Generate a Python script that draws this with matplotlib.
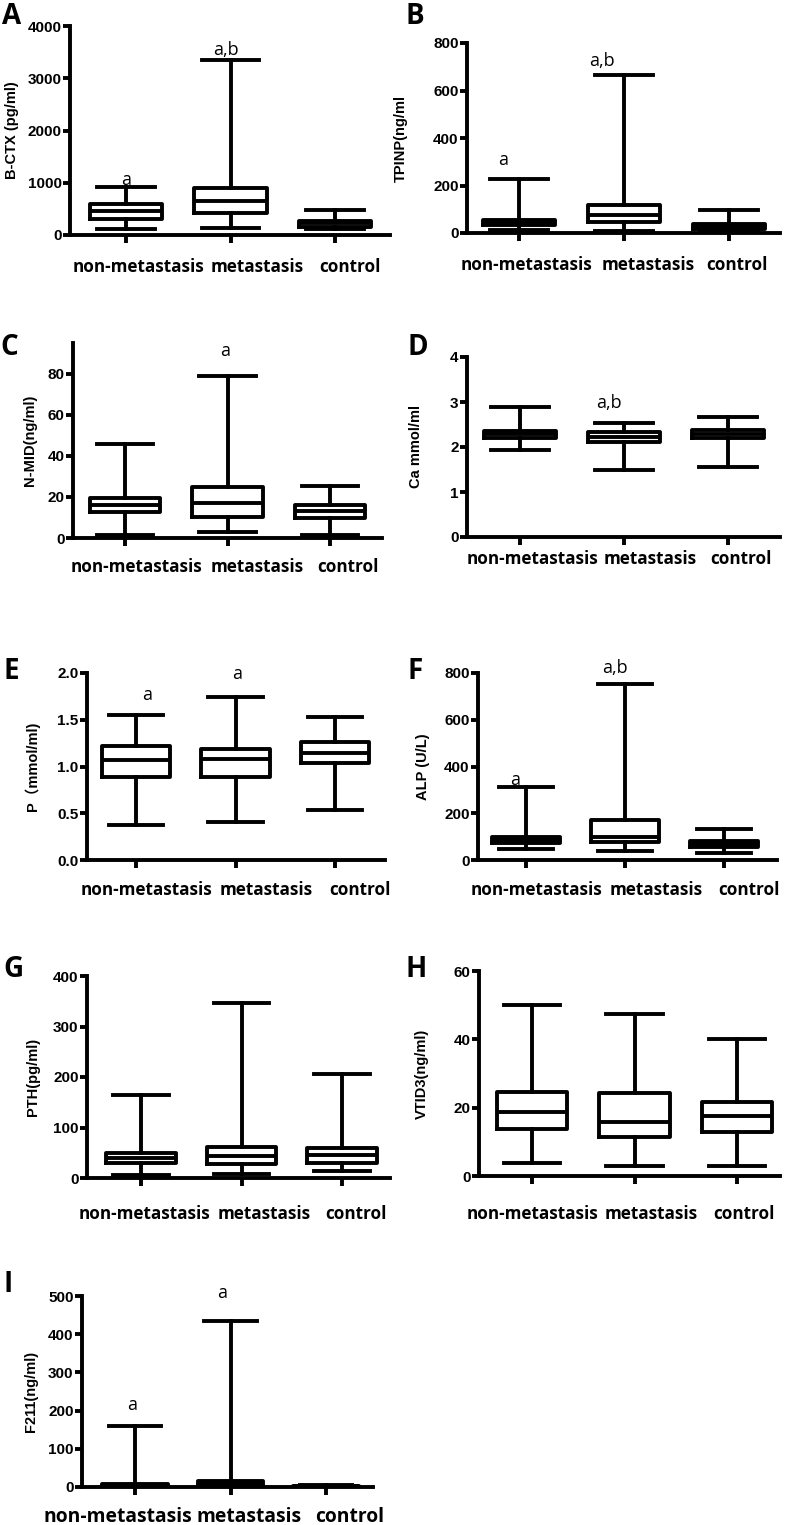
import numpy as np
import matplotlib.pyplot as plt
from matplotlib.transforms import ScaledTranslation

groups = ['non-metastasis', 'metastasis', 'control']

# rows: whisker low, q1, median, q3, whisker high (one column per group)
bctx = [[108, 134, 108], [300, 415, 160], [459, 651, 223], [593, 893, 274], [912, 3349, 478]]
tpinp = [[11, 10, 7], [35, 45, 17], [45, 77, 28], [56, 116, 39], [229, 667, 95]]
nmid = [[1.6, 2.8, 1.6], [12.5, 10.2, 9.9], [16.3, 17.0, 13.0], [19.5, 24.9, 16.3], [45.9, 78.9, 25.2]]
ca = [[1.93, 1.50, 1.56], [2.19, 2.11, 2.19], [2.28, 2.22, 2.28], [2.36, 2.33, 2.37], [2.89, 2.53, 2.67]]
p = [[0.37, 0.41, 0.54], [0.89, 0.89, 1.04], [1.07, 1.08, 1.14], [1.22, 1.19, 1.26], [1.55, 1.74, 1.53]]
alp = [[46, 40, 31], [71, 79, 57], [86, 97, 69], [100, 169, 81], [314, 753, 133]]
pth = [[5, 7, 14], [30, 27, 30], [40, 43, 45], [50, 61, 60], [165, 346, 205]]
vtid3 = [[3.9, 2.9, 2.9], [13.9, 11.5, 13.0], [18.6, 15.9, 17.6], [24.6, 24.3, 21.7], [50.0, 47.3, 40.0]]
f211 = [[2, 2, 0.5], [3, 3.5, 1], [6, 9, 2], [9, 16.5, 3.5], [159, 435, 5]]

ylabels = ['B-CTX (pg/ml)', 'TPINP(ng/ml', 'N-MID(ng/ml)', 'Ca mmol/ml', 'P（mmol/ml)',
           'ALP (U/L)', 'PTH(pg/ml)', 'VTID3(ng/ml)', 'F211(ng/ml)']
letters = ['A', 'B', 'C', 'D', 'E', 'F', 'G', 'H', 'I']
yticks = [np.arange(0, 4001, 1000), np.arange(0, 801, 200), np.arange(0, 81, 20),
          np.arange(0, 5, 1), np.arange(0, 2.01, 0.5), np.arange(0, 801, 200),
          np.arange(0, 401, 100), np.arange(0, 61, 20), np.arange(0, 501, 100)]
ytop = [4000, 800, 95, 4, 2.0, 800, 400, 60, 500]

# significance marks: (text, group, y value, x shift px)
marks = [
    [('a', 0, 1053, 0), ('a,b', 1, 3541, -5)],
    [('a', 0, 309, -16), ('a,b', 1, 723, -22)],
    [('a', 1, 91, -2)],
    [('a,b', 1, 2.98, -15)],
    [('a', 0, 1.77, 11), ('a', 1, 1.99, 2)],
    [('a', 0, 343, -11), ('a,b', 1, 821, -10)],
    [], [],
    [('a', 0, 215, -3), ('a', 1, 507, -8)],
]
data = [bctx, tpinp, nmid, ca, p, alp, pth, vtid3, f211]

W, H = 787, 1525
# layout in pixels: spine x, axis right end, y of zero line, y of top, tick x positions
frames = [
    (70, 390, 235, 26, (126, 232, 335)),
    (467, 780, 233, 43, (519, 625, 729)),
    (73, 382, 538, 343, (125, 228, 330)),
    (467, 780, 537, 357, (520, 625, 728)),
    (87, 385, 860, 673, (136, 236, 335)),
    (478, 777, 860, 673, (526, 626, 724)),
    (87, 390, 1178, 976, (141, 241, 342)),
    (479, 780, 1176, 971, (532, 634, 737)),
    (82, 373, 1487, 1296, (135, 230, 326)),
]
label_dx = [(12, 27, 15), (8, 24, 8), (12, 30, 18), (12, 26, 13), (11, 31, 25),
            (11, 31, 25), (4, 23, 14), (0, 17, 7), (-17, 19, 24)]
label_dy = [30, 30, 27, 20, 28, 28, 34, 36, 28]
ylab_x = [19, 408, 37, 423, 40, 430, 40, 429, 38]
letter_xy = [(2, 2), (405, 2), (0, 333), (407, 333), (3, 657), (407, 657),
             (3, 955), (405, 955), (3, 1270)]

lw = 2.8
fig = plt.figure(figsize=(W / 100, H / 100), dpi=100)

for i in range(9):
    left, right, y0, top, tx = frames[i]
    ax = fig.add_axes([left / W, 1 - y0 / H, (right - left) / W, (y0 - top) / H])
    s = (tx[2] - tx[0]) / 2
    ax.set_xlim(-(tx[0] - left) / s, 2 + (right - tx[2]) / s)
    ax.set_ylim(0, ytop[i])

    d = data[i]
    stats = []
    for g in range(3):
        stats.append(dict(whislo=d[0][g], q1=d[1][g], med=d[2][g], q3=d[3][g],
                          whishi=d[4][g], label=groups[g]))
    props = dict(color='black', linewidth=lw)
    ax.bxp(stats, positions=[0, 1, 2], widths=0.69, capwidths=0.55, showfliers=False,
           boxprops=props, medianprops=props, whiskerprops=props, capprops=props)

    for sp in ['top', 'right']:
        ax.spines[sp].set_visible(False)
    for sp in ['left', 'bottom']:
        ax.spines[sp].set_linewidth(lw)

    ax.set_yticks(yticks[i])
    if i == 4:
        ax.set_yticklabels(['%.1f' % v for v in yticks[i]])
    ax.tick_params(axis='y', length=5, width=lw, pad=1, labelsize=11)
    for t in ax.get_yticklabels():
        t.set_fontfamily('Liberation Sans')
        t.set_fontweight('bold')

    ax.set_xticks([0, 1, 2])
    ax.set_xticklabels(groups)
    ax.tick_params(axis='x', length=6, width=lw, pad=(label_dy[i] - 6) * 0.72)
    xs = 13.9 if i == 8 else 12.3
    for t, dx in zip(ax.get_xticklabels(), label_dx[i]):
        t.set_fontfamily('Open Sans')
        t.set_fontweight('bold')
        t.set_fontsize(xs)
        t.set_va('center')
        t.set_transform(t.get_transform() + ScaledTranslation(dx / 100, 0, fig.dpi_scale_trans))

    ax.set_ylabel(ylabels[i], family=['Liberation Sans', 'Noto Sans CJK SC'],
                  fontweight='bold', fontsize=10.5)
    ax.yaxis.set_label_coords((ylab_x[i] - left) / (right - left), 0.5)

    for txt, g, yv, dx in marks[i]:
        ax.text(g + dx / s, yv, txt, ha='center', va='center', fontsize=13,
                family='Open Sans')

    lx, ly = letter_xy[i]
    fig.text(lx / W, 1 - ly / H, letters[i], ha='left', va='top', fontsize=20,
             fontweight='bold', family='Open Sans')

fig.savefig('out.png', dpi=100)
